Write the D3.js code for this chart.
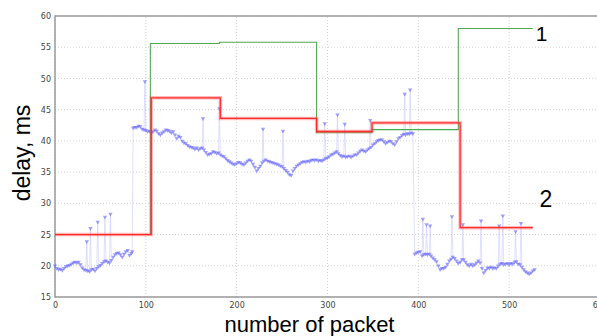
<!DOCTYPE html>
<html>
<head>
  <meta charset="utf-8">
  <title>Delay per packet</title>
  <script src="https://cdn.jsdelivr.net/npm/d3@7"></script>
  <style>
    body { margin: 0; background: #fff; }
    text { font-family: "Liberation Sans", Arial, sans-serif; }
  </style>
</head>
<body>
  <div id="chart"></div>
  <script>
    // Measured delay per packet [packet, ms]
    const measured = [
      [0,20.0],[2,19.6],[4,19.4],[6,19.5],[8,19.3],[10,19.6],[12,19.9],[14,20.0],[16,20.1],[18,20.3],
      [20,20.5],[22,20.6],[24,20.5],[26,20.6],[28,20.2],[30,19.7],[32,19.4],[34,19.3],[36,19.2],[38,19.1],
      [40,19.4],[42,19.5],[44,19.2],[46,19.6],[48,19.9],[50,20.1],[52,20.4],[54,20.7],[56,20.8],[58,20.6],
      [60,20.5],[62,20.9],[64,21.4],[66,21.8],[68,22.0],[70,22.1],[72,21.8],[74,21.4],[76,21.9],[78,22.3],
      [80,22.5],[82,21.7],[84,22.0],[85,22.3],
      [86,42.1],[88,42.2],[90,42.2],[92,42.4],[94,42.3],[96,41.9],[98,41.8],[100,41.7],[102,41.5],[104,41.6],
      [106,41.3],[108,41.5],[110,41.8],[112,41.6],[114,41.2],[116,41.0],[118,41.3],[120,41.5],[122,41.8],[124,41.7],
      [126,41.6],[128,41.3],[130,41.5],[132,41.0],[134,40.4],[136,40.8],[138,40.6],[140,40.0],[142,39.7],[144,39.6],
      [146,39.3],[148,39.1],[150,39.0],[152,38.9],[154,38.7],[156,38.9],[158,38.6],[160,38.8],[162,38.9],[164,38.6],
      [166,38.2],[168,37.8],[170,37.9],[172,38.0],[174,38.3],[176,38.2],[178,38.0],[180,38.1],[182,37.8],[184,37.6],
      [186,37.5],[188,37.2],[190,36.9],[192,36.7],[194,36.5],[196,36.3],[198,36.2],[200,36.4],[202,36.6],[204,36.5],
      [206,36.3],[208,36.2],[210,36.5],[212,36.8],[214,37.0],[216,36.8],[218,36.3],[220,35.8],[222,35.2],[224,35.6],
      [226,36.0],[228,36.5],[230,36.8],[232,37.0],[234,36.8],[236,36.7],[238,36.6],[240,36.5],[242,36.4],[244,36.3],
      [246,36.2],[248,36.0],[250,35.9],[252,35.6],[254,35.3],[256,35.0],[258,34.6],[260,34.5],[262,35.2],[264,35.6],
      [266,36.0],[268,36.2],[270,36.4],[272,36.6],[274,36.7],[276,36.6],[278,36.8],[280,36.7],[282,36.9],[284,37.0],
      [286,36.9],[288,37.0],[290,36.8],[292,36.9],[294,36.8],[296,37.0],[298,37.2],[300,37.3],[302,37.5],[304,37.8],
      [306,37.9],[308,38.1],[310,38.3],[312,38.0],[314,37.7],[316,37.5],[318,37.6],[320,37.4],[322,37.5],[324,37.6],
      [326,37.4],[328,37.6],[330,37.8],[332,37.8],[334,38.1],[336,38.4],[338,38.6],[340,38.4],[342,38.3],[344,38.6],
      [346,38.8],[348,39.0],[350,39.4],[352,39.6],[354,39.9],[356,40.1],[358,40.2],[360,40.2],[362,39.9],[364,39.6],
      [366,39.8],[368,40.0],[370,39.9],[372,39.6],[374,39.4],[376,39.9],[378,40.4],[380,40.6],[382,40.9],[384,41.1],
      [386,41.0],[388,41.2],[390,41.1],[392,41.3],[394,41.2],
      [396,21.9],[398,22.1],[400,22.2],[402,22.3],[404,21.6],[406,21.8],[408,21.9],[410,21.8],[412,21.9],[414,21.6],
      [416,21.3],[418,21.0],[420,20.7],[422,20.0],[424,19.4],[426,19.6],[428,19.6],[430,19.8],[432,20.3],[434,20.8],
      [436,21.1],[438,21.4],[440,21.2],[442,20.8],[444,20.4],[446,20.6],[448,21.0],[450,21.0],[452,20.6],[454,20.2],
      [456,20.0],[458,20.3],[460,20.0],[462,20.2],[464,20.5],[466,20.8],[468,20.5],[470,19.6],[472,18.9],[474,19.3],
      [476,19.7],[478,19.6],[480,19.8],[482,19.6],[484,19.7],[486,19.6],[488,20.0],[490,20.3],[492,20.4],[494,20.2],
      [496,20.3],[498,20.4],[500,20.2],[502,20.4],[504,20.3],[506,20.6],[508,20.7],[510,20.3],[512,20.2],[514,19.8],
      [516,19.4],[518,19.1],[520,18.9],[522,18.7],[524,18.9],[526,19.2],[528,19.4]
    ];

    // Outlier packets (spikes)
    const spikes = [
      [35,23.9],[39,26.0],[47,27.0],[55,27.8],[61,28.3],
      [99,49.5],[163,43.6],[181,45.2],[229,41.9],[251,41.6],[297,42.8],[311,44.2],[319,42.7],[347,43.3],[385,47.5],[391,48.2],
      [405,27.5],[409,26.6],[413,26.4],[437,27.9],[449,26.6],[469,27.2],[489,26.4],[493,28.0],[507,25.5],[513,26.8]
    ];

    // Estimate 1 (green) and estimate 2 (red), step changes [packet, ms]
    const estimate1 = [[0,25],[105,55.6],[181,55.8],[288,41.3],[349,41.8],[444,58.0],[526,58.0]];
    const estimate2 = [[0,25],[106,46.9],[182,43.6],[288,41.5],[349,42.9],[446,26.1],[526,26.1]];

    const xTicks = [0, 100, 200, 300, 400, 500, 600];
    const yTicks = [15, 20, 25, 30, 35, 40, 45, 50, 55, 60];

    const width = 597, height = 336;
    const margins = { top: 16, right: -3, bottom: 39, left: 55 };

    const x = d3.scaleLinear().domain([0, 600]).range([margins.left, width - margins.right]);
    const y = d3.scaleLinear().domain([15, 60]).range([height - margins.bottom, margins.top]);

    const svg = d3.select("#chart").append("svg")
      .attr("width", width)
      .attr("height", height);

    // Grid
    svg.append("g")
      .selectAll("line.gx")
      .data(xTicks)
      .enter().append("line")
      .attr("x1", d => x(d)).attr("x2", d => x(d))
      .attr("y1", y(15)).attr("y2", y(60))
      .attr("stroke", "#c8c8c8").attr("stroke-width", 0.8)
      .attr("stroke-dasharray", "1,2");

    svg.append("g")
      .selectAll("line.gy")
      .data(yTicks)
      .enter().append("line")
      .attr("x1", x(0)).attr("x2", x(600))
      .attr("y1", d => y(d)).attr("y2", d => y(d))
      .attr("stroke", "#c8c8c8").attr("stroke-width", 0.8)
      .attr("stroke-dasharray", "1,2");

    // Axes
    const xAxis = svg.append("g")
      .attr("transform", `translate(0,${y(15)})`)
      .call(d3.axisBottom(x).tickValues(xTicks).tickSize(0).tickPadding(5));
    const yAxis = svg.append("g")
      .attr("transform", `translate(${x(0)},0)`)
      .call(d3.axisLeft(y).tickValues(yTicks).tickSize(0).tickPadding(4));

    [xAxis, yAxis].forEach(a => {
      a.select(".domain").remove();
      a.selectAll("text")
        .style("font-family", "'DejaVu Sans', sans-serif")
        .style("font-size", "8px")
        .attr("fill", "#444");
    });

    // Frame
    svg.append("rect")
      .attr("x", x(0)).attr("y", y(60))
      .attr("width", x(600) - x(0)).attr("height", y(15) - y(60))
      .attr("fill", "none").attr("stroke", "#9a9a9a").attr("stroke-width", 1.5);

    // Measured series
    const points = measured.concat(spikes).sort((a, b) => a[0] - b[0]);
    const line = d3.line().x(d => x(d[0])).y(d => y(d[1]));

    svg.append("path")
      .datum(points)
      .attr("d", line)
      .attr("fill", "none")
      .attr("stroke", "#c0c0ff")
      .attr("stroke-opacity", 0.55)
      .attr("stroke-width", 0.9);

    const tri = d3.symbol().type(d3.symbolTriangle).size(8);
    svg.append("g")
      .selectAll("path")
      .data(points)
      .enter().append("path")
      .attr("d", tri)
      .attr("transform", d => `translate(${x(d[0])},${y(d[1])}) rotate(180)`)
      .attr("fill", "#6060ff")
      .attr("fill-opacity", 0.6);

    // Estimates
    const step = d3.line().curve(d3.curveStepAfter).x(d => x(d[0])).y(d => y(d[1]));

    svg.append("path")
      .datum(estimate1)
      .attr("d", step)
      .attr("fill", "none")
      .attr("stroke", "#40a040")
      .attr("stroke-opacity", 0.9)
      .attr("stroke-width", 1.1);

    svg.append("path")
      .datum(estimate2)
      .attr("d", step)
      .attr("fill", "none")
      .attr("stroke", "#ff5050")
      .attr("stroke-opacity", 0.4)
      .attr("stroke-width", 3.5);
    svg.append("path")
      .datum(estimate2)
      .attr("d", step)
      .attr("fill", "none")
      .attr("stroke", "#ff2020")
      .attr("stroke-opacity", 0.9)
      .attr("stroke-width", 1.3);

    // Series labels
    svg.append("text")
      .attr("x", 541.7).attr("y", 40.7)
      .attr("text-anchor", "middle")
      .style("font-size", "21px")
      .text("1");
    svg.append("text")
      .attr("x", 546).attr("y", 206.7)
      .attr("text-anchor", "middle")
      .style("font-size", "23px")
      .text("2");

    // Axis titles
    svg.append("text")
      .attr("transform", "translate(30,153) rotate(-90)")
      .attr("text-anchor", "middle")
      .style("font-size", "23px")
      .text("delay, ms");
    svg.append("text")
      .attr("x", 309.5).attr("y", 332)
      .attr("text-anchor", "middle")
      .style("font-size", "22px")
      .text("number of packet");
  </script>
</body>
</html>
